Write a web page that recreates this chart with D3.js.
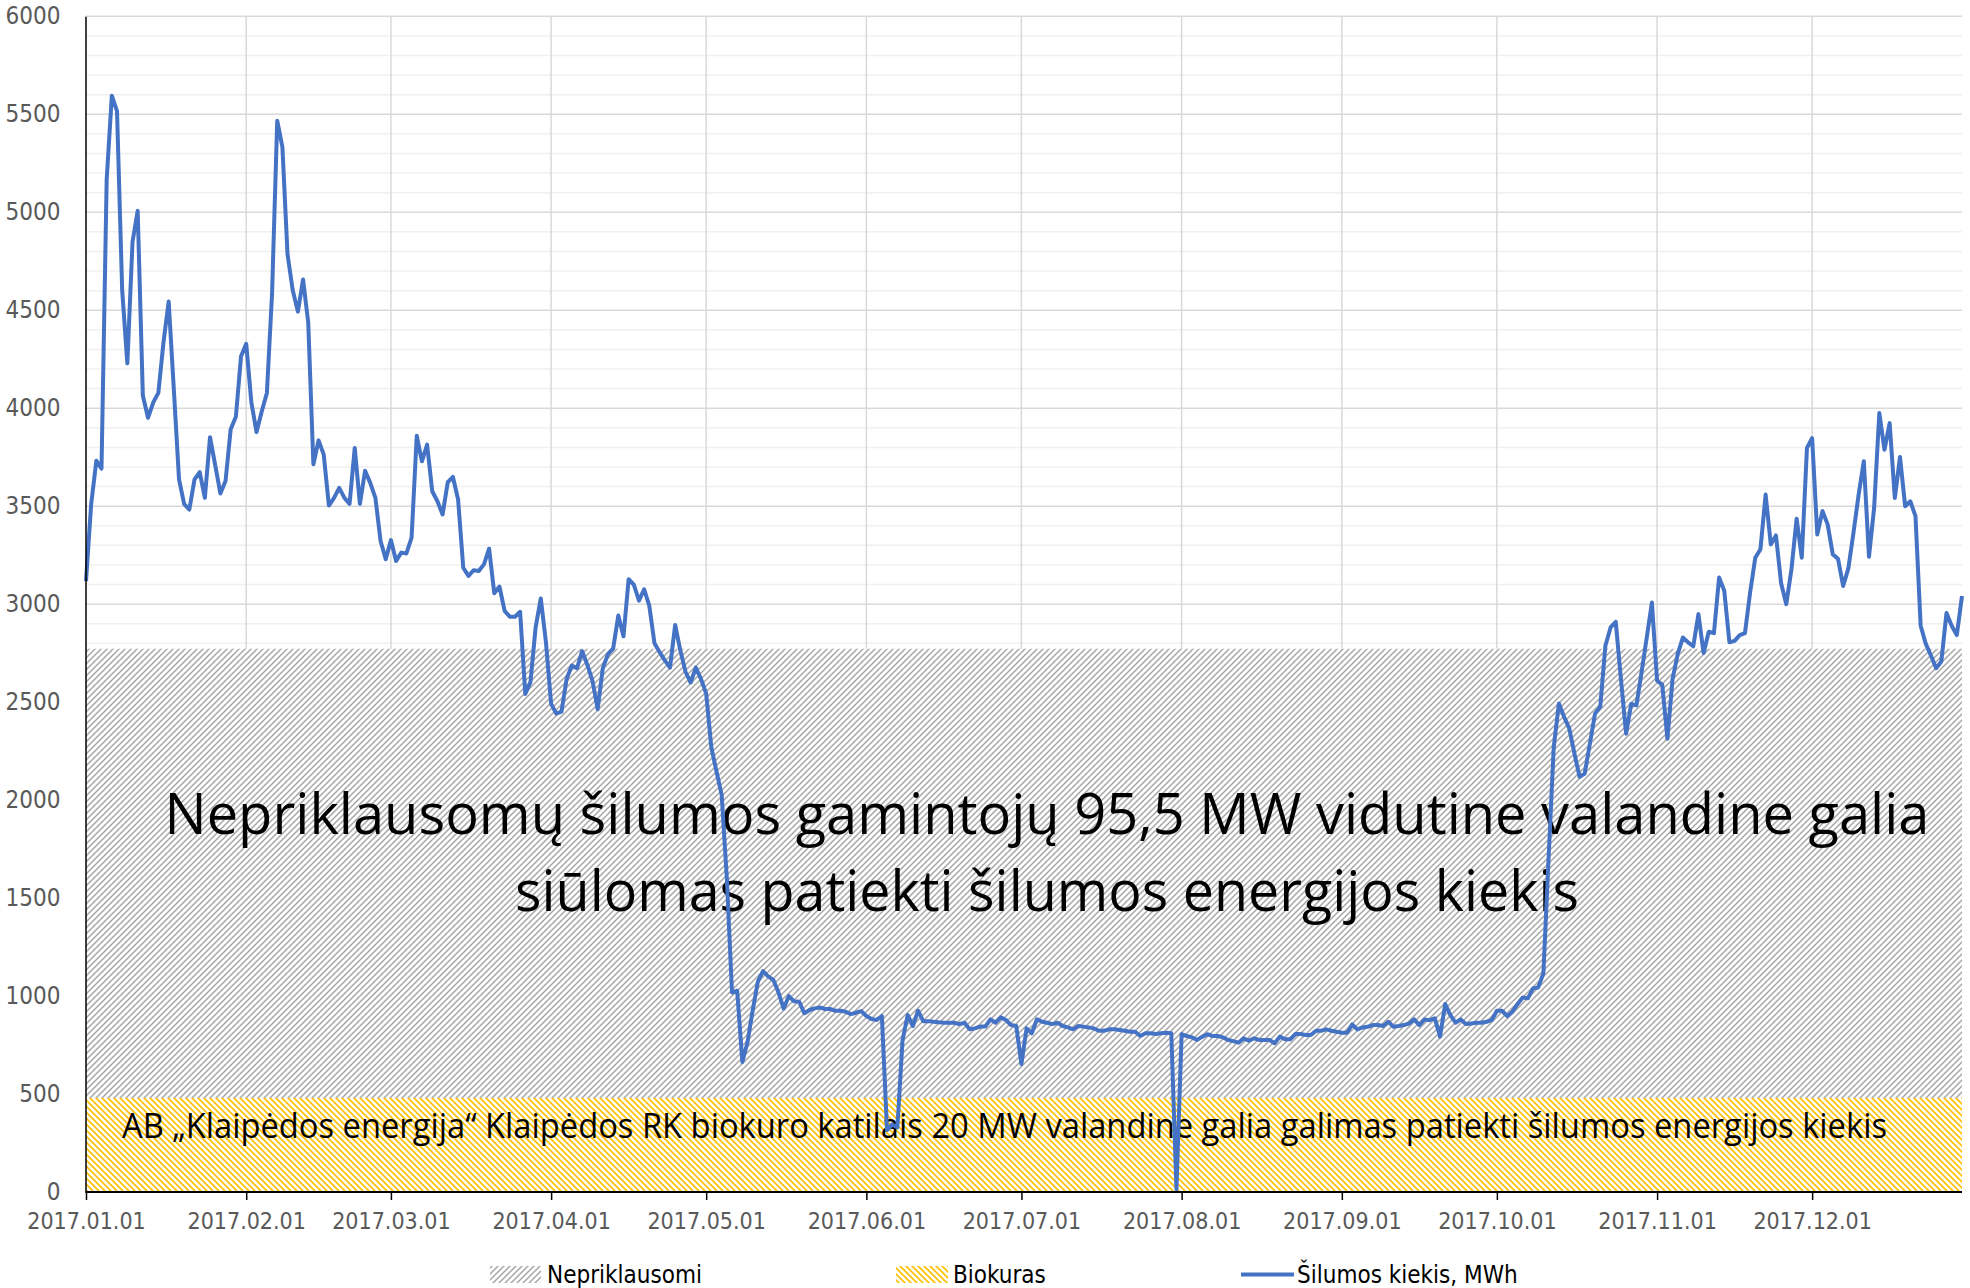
<!DOCTYPE html>
<html>
<head>
<meta charset="utf-8">
<script src="https://cdn.jsdelivr.net/npm/d3@7/dist/d3.min.js"></script>
<style>
  body { margin: 0; background: #fff; }
  svg { display: block; }
  .axis-label { font-family: "Liberation Sans Narrow", "DejaVu Sans Condensed", "Open Sans", sans-serif; fill: #595959; }
  .big { font-family: "Open Sans", "Noto Sans", sans-serif; fill: #000; }
  .legend { font-family: "Liberation Sans Narrow", "DejaVu Sans Condensed", "Open Sans", sans-serif; fill: #000; }
</style>
</head>
<body>
<svg id="chart"></svg>
<script>
// daily heat amount, MWh, from 2017.01.01
var startDate = "2017-01-01";
var heat = [
  3118, 3510, 3732, 3692, 5167, 5595, 5516, 4602, 4229, 4848, 5007, 4065, 3951, 4029, 4078, 4338,
  4544, 4093, 3637, 3510, 3483, 3637, 3674, 3543, 3852, 3710, 3565, 3628, 3893, 3956, 4265,
  4329, 4029, 3878, 3983, 4078, 4584, 5467, 5334, 4784, 4602, 4493, 4657, 4438, 3714, 3836,
  3763, 3503, 3542, 3593, 3542, 3512, 3797, 3512, 3681, 3619, 3542, 3322, 3229,
  3327, 3220, 3263, 3259, 3339, 3859, 3729, 3814, 3576, 3525, 3458, 3622, 3649, 3534, 3186,
  3144, 3173, 3169, 3203, 3283, 3056, 3090, 2966, 2936, 2936, 2961, 2542, 2602, 2881, 3029, 2805,
  2491, 2441, 2451, 2618, 2687, 2673, 2760, 2691, 2609, 2464, 2673, 2745, 2773, 2942, 2836,
  3127, 3100, 3018, 3076, 2991, 2800, 2755, 2713, 2676, 2894, 2764, 2655, 2600, 2676, 2618,
  2545, 2269, 2146, 2027, 1600, 1018, 1027, 664, 764, 927, 1073, 1127, 1100, 1082, 1018, 936,
  1000, 973, 971, 912, 929, 937, 942, 934, 934, 925, 925, 920, 908, 915, 923,
  898, 883, 878, 898, 316, 345, 330, 775, 903, 847, 925, 872, 872, 869, 866, 864, 864, 864,
  857, 864, 830, 835, 844, 844, 881, 864, 891, 878, 852, 847,
  653, 835, 810, 881, 869, 864, 857, 864, 847, 840, 830, 847, 844, 840, 835, 823, 823, 830,
  830, 827, 823, 818, 818, 796, 810, 810, 806, 810, 813, 810, 14,
  806, 796, 789, 776, 793, 805, 796, 796, 789, 776, 770, 762, 784, 772, 784, 776, 776, 776,
  759, 793, 779, 779, 806, 806, 801, 801, 823, 823, 830, 823, 818,
  813, 813, 855, 830, 840, 843, 852, 852, 847, 869, 843, 847, 852, 860, 881, 852, 881, 877,
  886, 793, 959, 903, 864, 881, 857, 860, 864, 864, 869, 877,
  925, 925, 898, 920, 959, 993, 988, 1039, 1044, 1116, 1700, 2270, 2493, 2425, 2366, 2238,
  2119, 2136, 2289, 2442, 2476, 2788, 2881, 2910, 2619, 2339, 2491, 2483, 2653, 2830, 3008,
  2610, 2588, 2313, 2619, 2746, 2830, 2805, 2785, 2949, 2751, 2859, 2852, 3136, 3068, 2805,
  2813, 2842, 2852, 3059, 3237, 3280, 3559, 3305, 3351, 3107, 3000, 3178, 3436, 3237, 3797,
  3847, 3356, 3475, 3407, 3254, 3232, 3093, 3181, 3364, 3559, 3729, 3242, 3492, 3975, 3788,
  3924, 3542, 3751, 3500, 3525, 3449, 2890, 2797, 2737, 2673, 2707, 2955, 2890, 2842, 3042
];
var yTicks = [0, 500, 1000, 1500, 2000, 2500, 3000, 3500, 4000, 4500, 5000, 5500, 6000];
var biokurasMW = 20, nepriklausomiMW = 95.5, hoursPerDay = 24;
var legendNames = ["Nepriklausomi", "Biokuras", "Šilumos kiekis, MWh"];
var bigLabel = ["Nepriklausomų šilumos gamintojų 95,5 MW vidutine valandine galia",
                "siūlomas patiekti šilumos energijos kiekis"];
var bioLabel = "AB „Klaipėdos energija“ Klaipėdos RK biokuro katilais 20 MW valandine galia galimas patiekti šilumos energijos kiekis";

var width = 1970, height = 1288;
var plotLeft = 85.5, plotRight = 1962, plotTop = 16.3, plotBottom = 1192;

var parse = d3.timeParse("%Y-%m-%d");
var t0 = parse(startDate);
var dates = heat.map(function(d, i) { return d3.timeDay.offset(t0, i); });
var series = heat.map(function(v, i) { return {date: dates[i], value: v}; });

var svg = d3.select("#chart").attr("width", width).attr("height", height);

var x = d3.scaleTime().domain(d3.extent(dates)).range([plotLeft + 0.5, plotRight]);
var y = d3.scaleLinear().domain([0, 6000]).range([plotBottom, plotTop]);

// hatch patterns
var defs = svg.append("defs");
function hatch(id, color, upward, sw) {
  var p = defs.append("pattern").attr("id", id)
    .attr("patternUnits", "userSpaceOnUse").attr("width", 6).attr("height", 6);
  p.append("rect").attr("width", 6).attr("height", 6).attr("fill", "#fff");
  p.append("path")
    .attr("d", upward ? "M0,6L6,0M-1.5,1.5L1.5,-1.5M4.5,7.5L7.5,4.5"
                      : "M0,0L6,6M-1.5,4.5L1.5,7.5M4.5,-1.5L7.5,1.5")
    .attr("stroke", color).attr("stroke-width", sw).attr("fill", "none");
}
hatch("hatchGrey", "#a6a6a6", true, 1.5);
hatch("hatchYellow", "#ffc000", false, 1.6);

// gridlines
var minor = d3.range(0, 6001, 100);
svg.append("g").selectAll("line").data(minor.filter(function(v) { return v % 500; }))
  .enter().append("line")
  .attr("x1", plotLeft).attr("x2", plotRight)
  .attr("y1", function(d) { return y(d); }).attr("y2", function(d) { return y(d); })
  .attr("stroke", "#f0f0f0").attr("stroke-width", 1.5);
svg.append("g").selectAll("line").data(yTicks)
  .enter().append("line")
  .attr("x1", plotLeft).attr("x2", plotRight)
  .attr("y1", function(d) { return y(d); }).attr("y2", function(d) { return y(d); })
  .attr("stroke", "#d9d9d9").attr("stroke-width", 1.5);

var months = d3.timeMonth.range(t0, d3.timeDay.offset(dates[dates.length - 1], 1));
svg.append("g").selectAll("line").data(months.slice(1))
  .enter().append("line")
  .attr("x1", function(d) { return x(d); }).attr("x2", function(d) { return x(d); })
  .attr("y1", plotTop).attr("y2", plotBottom)
  .attr("stroke", "#d9d9d9").attr("stroke-width", 1.5);

// stacked capacity areas
var capRows = [dates[0], dates[dates.length - 1]].map(function(d) {
  return {date: d, Biokuras: biokurasMW * hoursPerDay, Nepriklausomi: nepriklausomiMW * hoursPerDay};
});
var stack = d3.stack().keys(["Biokuras", "Nepriklausomi"])(capRows);
var area = d3.area()
  .x(function(d) { return x(d.data.date); })
  .y0(function(d) { return y(d[0]); })
  .y1(function(d) { return y(d[1]); });
svg.append("g").selectAll("path").data(stack).enter().append("path")
  .attr("d", area)
  .attr("fill", function(d) { return d.key === "Biokuras" ? "url(#hatchYellow)" : "url(#hatchGrey)"; });

// labels inside areas
var big = svg.append("g").attr("class", "big");
big.selectAll("text").data(bigLabel).enter().append("text")
  .attr("x", 1047).attr("y", function(d, i) { return 834 + i * 77; })
  .attr("text-anchor", "middle").attr("font-size", 57)
  .attr("textLength", function(d, i) { return i ? 1064 : 1765; })
  .attr("lengthAdjust", "spacingAndGlyphs")
  .text(function(d) { return d; });
svg.append("text").attr("class", "big")
  .attr("x", 1004.5).attr("y", 1138).attr("text-anchor", "middle").attr("font-size", 34)
  .attr("textLength", 1765).attr("lengthAdjust", "spacingAndGlyphs")
  .text(bioLabel);

// heat line
var line = d3.line()
  .x(function(d) { return x(d.date); })
  .y(function(d) { return y(d.value); });
svg.append("path").datum(series)
  .attr("d", line).attr("fill", "none")
  .attr("stroke", "#4472c4").attr("stroke-width", 4)
  .attr("stroke-linejoin", "round");

// axes
var yAxis = svg.append("g").attr("transform", "translate(" + plotLeft + ",0)")
  .call(d3.axisLeft(y).tickValues(yTicks).tickSize(0).tickPadding(25).tickFormat(d3.format("d")));
yAxis.select(".domain").attr("stroke", "#000").attr("stroke-width", 1.5);
yAxis.selectAll("text").attr("class", "axis-label").attr("font-size", 24);

var xAxis = svg.append("g").attr("transform", "translate(0," + plotBottom + ")")
  .call(d3.axisBottom(x).tickValues(months).tickSize(8).tickPadding(13)
    .tickFormat(d3.timeFormat("%Y.%m.%d")));
xAxis.select(".domain").attr("stroke", "#000").attr("stroke-width", 2)
  .attr("d", "M" + plotLeft + ",0H" + plotRight);
xAxis.selectAll(".tick line").attr("stroke", "#000").attr("stroke-width", 1.5);
xAxis.selectAll("text").attr("class", "axis-label").attr("font-size", 23);

// legend
var lg = svg.append("g");
var legendX = [490, 896, 1241];
lg.append("rect").attr("x", legendX[0]).attr("y", 1266).attr("width", 51).attr("height", 17)
  .attr("fill", "url(#hatchGrey)");
lg.append("rect").attr("x", legendX[1]).attr("y", 1266).attr("width", 52).attr("height", 17)
  .attr("fill", "url(#hatchYellow)");
lg.append("line").attr("x1", legendX[2]).attr("x2", legendX[2] + 53)
  .attr("y1", 1274.5).attr("y2", 1274.5).attr("stroke", "#4472c4").attr("stroke-width", 4);
lg.selectAll("text").data(legendNames).enter().append("text")
  .attr("class", "legend")
  .attr("x", function(d, i) { return legendX[i] + (i === 2 ? 56 : 57); })
  .attr("y", 1283).attr("font-size", 24)
  .text(function(d) { return d; });
</script>
</body>
</html>
